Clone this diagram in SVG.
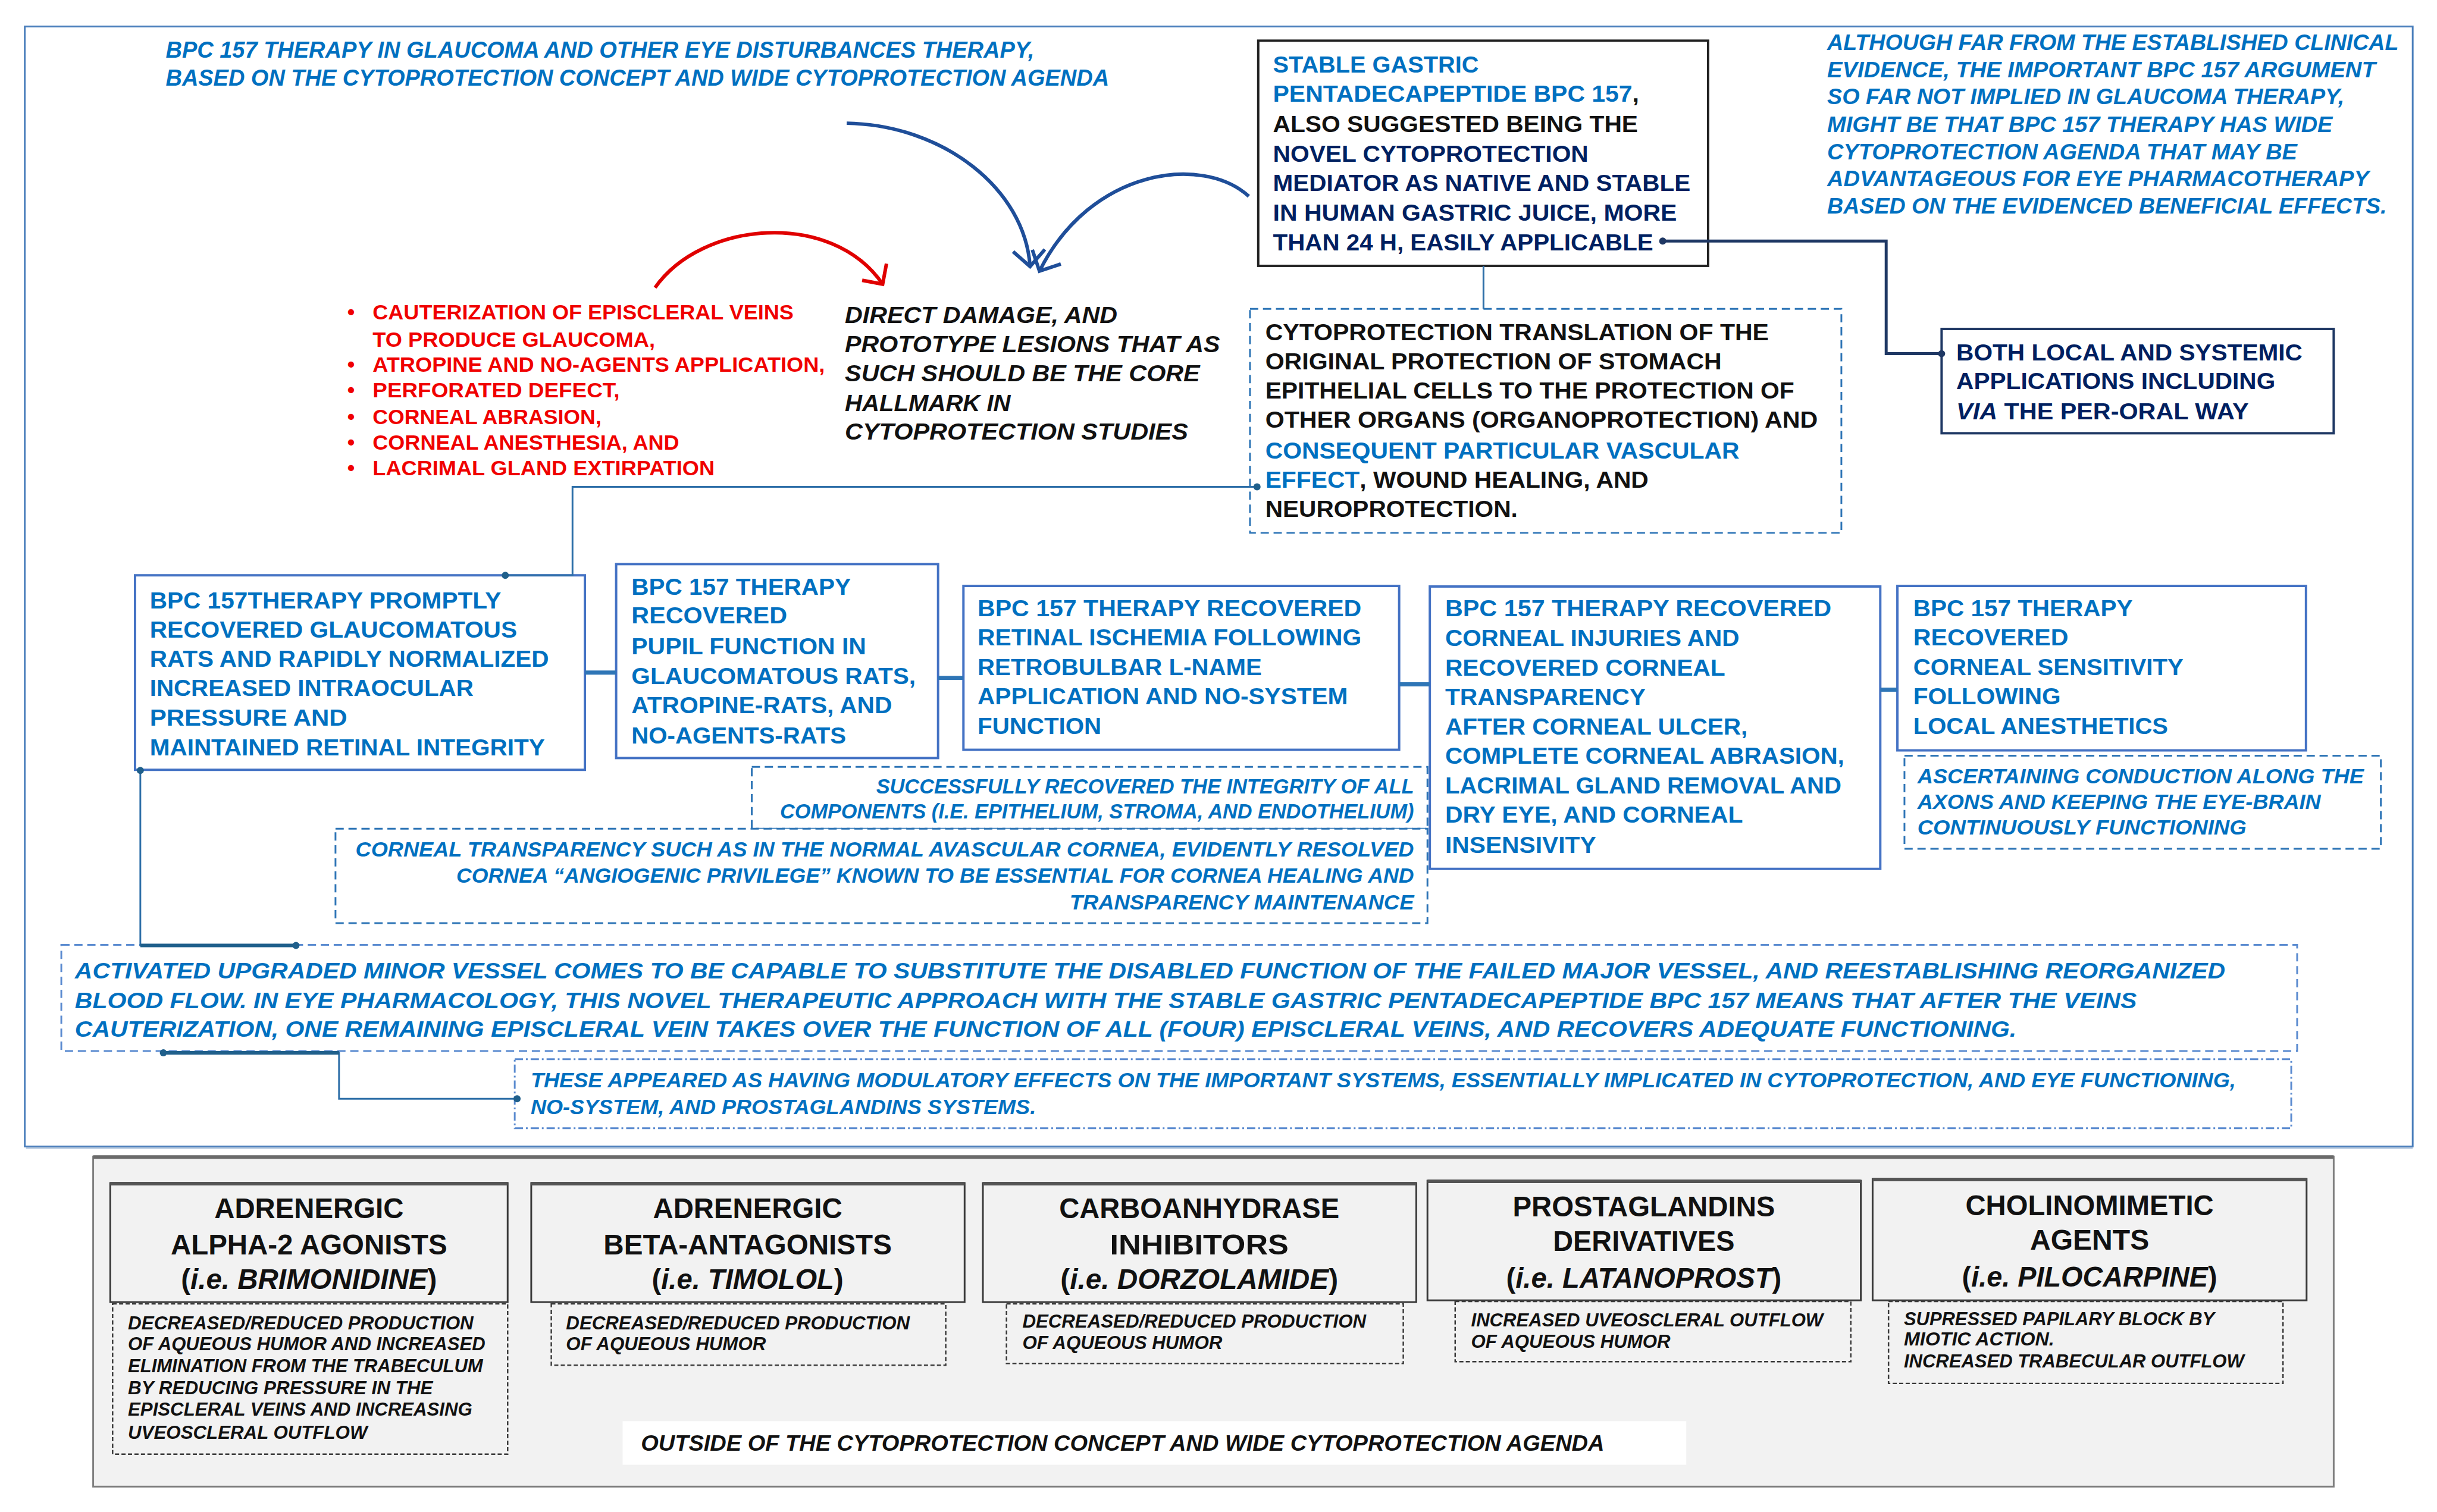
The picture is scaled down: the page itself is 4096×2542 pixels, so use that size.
<svg xmlns="http://www.w3.org/2000/svg" width="4096" height="2542" viewBox="0 0 4096 2542">
<defs>
<style>
.t{font-family:'Liberation Sans',Arial,sans-serif;font-weight:bold}
.i{font-style:italic}
.bl{fill:#0070C0}
.nv{fill:#002060}
.rd{fill:#F00000}
.bk{fill:#111111}
.s40{font-size:40px}
.s38{font-size:38px}
.s36{font-size:36px}
.s35{font-size:35px}
.s32{font-size:32px}
.s48{font-size:48px}
.box{fill:#ffffff;stroke:#4472C4;stroke-width:4}
.dbox{fill:#ffffff;stroke:#2E75B6;stroke-width:3;stroke-dasharray:14 8}
.gbox{fill:#F2F2F2;stroke:#3a3a3a;stroke-width:3}
.gdash{fill:#F2F2F2;stroke:#3a3a3a;stroke-width:2.5;stroke-dasharray:7 4}
.con{fill:none;stroke:#2E6FA8;stroke-width:3}
.thick{fill:none;stroke:#2E75B6;stroke-width:7}
.dot{fill:#1F5F8B}
</style>
<marker id="ab" markerUnits="userSpaceOnUse" markerWidth="70" markerHeight="70" refX="35" refY="35" orient="auto" viewBox="0 0 70 70"><path d="M8,8 L35,35 L8,62" fill="none" stroke="#1F4E99" stroke-width="6"/></marker>
<marker id="ar" markerUnits="userSpaceOnUse" markerWidth="70" markerHeight="70" refX="35" refY="35" orient="auto" viewBox="0 0 70 70"><path d="M10,10 L35,35 L10,60" fill="none" stroke="#E00000" stroke-width="6"/></marker>
</defs>
<rect width="4096" height="2542" fill="#ffffff"/>
<g transform="scale(0.991)">
<!-- outer frame -->
<rect id="frame" x="42" y="45" width="4050" height="1900" fill="#ffffff" stroke="#4A7EBB" stroke-width="3"/>
<line x1="44" y1="1947" x2="4092" y2="1947" stroke="#9DB7D5" stroke-width="3"/>

<!-- title -->
<g id="title" class="t i bl s40">
<text x="281" y="98" textLength="1473" lengthAdjust="spacingAndGlyphs">BPC 157  THERAPY IN GLAUCOMA AND OTHER EYE DISTURBANCES THERAPY,</text>
<text x="281" y="145" textLength="1600" lengthAdjust="spacingAndGlyphs">BASED ON THE CYTOPROTECTION CONCEPT AND WIDE CYTOPROTECTION AGENDA</text>
</g>

<!-- right note -->
<g id="note" class="t i bl s38">
<text x="3099" y="85" textLength="969" lengthAdjust="spacingAndGlyphs">ALTHOUGH FAR FROM THE ESTABLISHED CLINICAL</text>
<text x="3099" y="131" textLength="930" lengthAdjust="spacingAndGlyphs">EVIDENCE, THE IMPORTANT BPC 157 ARGUMENT</text>
<text x="3099" y="177" textLength="877" lengthAdjust="spacingAndGlyphs">SO FAR NOT IMPLIED IN GLAUCOMA THERAPY,</text>
<text x="3099" y="224" textLength="857" lengthAdjust="spacingAndGlyphs">MIGHT BE THAT BPC 157 THERAPY HAS WIDE</text>
<text x="3099" y="270" textLength="797" lengthAdjust="spacingAndGlyphs">CYTOPROTECTION AGENDA THAT MAY BE</text>
<text x="3099" y="316" textLength="919" lengthAdjust="spacingAndGlyphs">ADVANTAGEOUS FOR EYE PHARMACOTHERAPY</text>
<text x="3099" y="362" textLength="949" lengthAdjust="spacingAndGlyphs">BASED ON THE EVIDENCED BENEFICIAL EFFECTS.</text>
</g>

<!-- red list -->
<g id="redlist" class="t rd s36">
<text x="589" y="542">•</text>
<text x="632" y="542" textLength="714" lengthAdjust="spacingAndGlyphs">CAUTERIZATION OF EPISCLERAL VEINS</text>
<text x="632" y="588" textLength="479" lengthAdjust="spacingAndGlyphs">TO PRODUCE GLAUCOMA,</text>
<text x="589" y="631">•</text>
<text x="632" y="631" textLength="767" lengthAdjust="spacingAndGlyphs">ATROPINE AND NO-AGENTS APPLICATION,</text>
<text x="589" y="674">•</text>
<text x="632" y="674" textLength="419" lengthAdjust="spacingAndGlyphs">PERFORATED DEFECT,</text>
<text x="589" y="719">•</text>
<text x="632" y="719" textLength="388" lengthAdjust="spacingAndGlyphs">CORNEAL ABRASION,</text>
<text x="589" y="763">•</text>
<text x="632" y="763" textLength="520" lengthAdjust="spacingAndGlyphs">CORNEAL ANESTHESIA, AND</text>
<text x="589" y="806">•</text>
<text x="632" y="806" textLength="580" lengthAdjust="spacingAndGlyphs">LACRIMAL GLAND EXTIRPATION</text>
</g>

<!-- direct damage -->
<g id="damage" class="t i bk s40">
<text x="1433" y="548" textLength="462" lengthAdjust="spacingAndGlyphs">DIRECT DAMAGE, AND</text>
<text x="1433" y="597" textLength="636" lengthAdjust="spacingAndGlyphs">PROTOTYPE LESIONS THAT AS</text>
<text x="1433" y="647" textLength="602" lengthAdjust="spacingAndGlyphs">SUCH SHOULD BE THE CORE</text>
<text x="1433" y="697" textLength="281" lengthAdjust="spacingAndGlyphs">HALLMARK IN</text>
<text x="1433" y="746" textLength="582" lengthAdjust="spacingAndGlyphs">CYTOPROTECTION STUDIES</text>
</g>

<!-- stable gastric box -->
<g id="stable">
<rect x="2134" y="69" width="763" height="382" fill="#ffffff" stroke="#222222" stroke-width="4"/>
<g class="t s40">
<text x="2159" y="123" class="bl" textLength="349" lengthAdjust="spacingAndGlyphs">STABLE GASTRIC</text>
<text x="2159" y="173" class="bl" textLength="621" lengthAdjust="spacingAndGlyphs">PENTADECAPEPTIDE BPC 157<tspan class="bk">,</tspan></text>
<text x="2159" y="224" class="bk" textLength="619" lengthAdjust="spacingAndGlyphs">ALSO SUGGESTED BEING THE</text>
<text x="2159" y="274" class="nv" textLength="535" lengthAdjust="spacingAndGlyphs">NOVEL CYTOPROTECTION</text>
<text x="2159" y="324" class="nv" textLength="708" lengthAdjust="spacingAndGlyphs">MEDIATOR AS NATIVE AND STABLE</text>
<text x="2159" y="374" class="nv" textLength="685" lengthAdjust="spacingAndGlyphs">IN HUMAN GASTRIC JUICE, MORE</text>
<text x="2159" y="425" class="nv" textLength="645" lengthAdjust="spacingAndGlyphs">THAN 24 H, EASILY APPLICABLE</text>
</g>
</g>

<!-- both local -->
<g id="bothlocal">
<rect x="3293" y="558" width="665" height="177" fill="#ffffff" stroke="#1F3864" stroke-width="4"/>
<g class="t nv s40">
<text x="3318" y="611" textLength="587" lengthAdjust="spacingAndGlyphs">BOTH LOCAL AND SYSTEMIC</text>
<text x="3318" y="660" textLength="541" lengthAdjust="spacingAndGlyphs">APPLICATIONS INCLUDING</text>
<text x="3318" y="711" textLength="496" lengthAdjust="spacingAndGlyphs"><tspan class="i">VIA</tspan> THE PER-ORAL WAY</text>
</g>
</g>

<!-- cytoprotection translation -->
<g id="translation">
<rect x="2120" y="524" width="1003" height="380" class="dbox"/>
<g class="t bk s40">
<text x="2146" y="577" textLength="854" lengthAdjust="spacingAndGlyphs">CYTOPROTECTION  TRANSLATION OF THE</text>
<text x="2146" y="627" textLength="774" lengthAdjust="spacingAndGlyphs">ORIGINAL  PROTECTION  OF STOMACH</text>
<text x="2146" y="676" textLength="897" lengthAdjust="spacingAndGlyphs">EPITHELIAL CELLS TO THE PROTECTION  OF</text>
<text x="2146" y="726" textLength="937" lengthAdjust="spacingAndGlyphs">OTHER ORGANS (ORGANOPROTECTION) AND</text>
<text x="2146" y="778" class="bl" textLength="804" lengthAdjust="spacingAndGlyphs">CONSEQUENT PARTICULAR VASCULAR</text>
<text x="2146" y="827" textLength="650" lengthAdjust="spacingAndGlyphs"><tspan class="bl">EFFECT</tspan>, WOUND HEALING, AND</text>
<text x="2146" y="877" textLength="428" lengthAdjust="spacingAndGlyphs">NEUROPROTECTION.</text>
</g>
</g>

<!-- box A -->
<g id="boxA">
<rect x="229" y="976" width="763" height="330" class="box"/>
<g class="t bl s40">
<text x="254" y="1032" textLength="596" lengthAdjust="spacingAndGlyphs">BPC 157THERAPY PROMPTLY</text>
<text x="254" y="1082" textLength="623" lengthAdjust="spacingAndGlyphs">RECOVERED GLAUCOMATOUS</text>
<text x="254" y="1131" textLength="677" lengthAdjust="spacingAndGlyphs">RATS AND RAPIDLY NORMALIZED</text>
<text x="254" y="1181" textLength="549" lengthAdjust="spacingAndGlyphs">INCREASED INTRAOCULAR</text>
<text x="254" y="1231" textLength="335" lengthAdjust="spacingAndGlyphs">PRESSURE  AND</text>
<text x="254" y="1282" textLength="670" lengthAdjust="spacingAndGlyphs">MAINTAINED RETINAL INTEGRITY</text>
</g>
</g>

<!-- box B -->
<g id="boxB">
<rect x="1045" y="957" width="546" height="329" class="box"/>
<g class="t bl s40">
<text x="1071" y="1009" textLength="372" lengthAdjust="spacingAndGlyphs">BPC 157 THERAPY</text>
<text x="1071" y="1058" textLength="264" lengthAdjust="spacingAndGlyphs">RECOVERED</text>
<text x="1071" y="1110" textLength="398" lengthAdjust="spacingAndGlyphs">PUPIL FUNCTION  IN</text>
<text x="1071" y="1160" textLength="482" lengthAdjust="spacingAndGlyphs">GLAUCOMATOUS RATS,</text>
<text x="1071" y="1210" textLength="442" lengthAdjust="spacingAndGlyphs">ATROPINE-RATS, AND</text>
<text x="1071" y="1261" textLength="364" lengthAdjust="spacingAndGlyphs">NO-AGENTS-RATS</text>
</g>
</g>

<!-- box C -->
<g id="boxC">
<rect x="1634" y="994" width="739" height="278" class="box"/>
<g class="t bl s40">
<text x="1658" y="1045" textLength="651" lengthAdjust="spacingAndGlyphs">BPC 157 THERAPY RECOVERED</text>
<text x="1658" y="1095" textLength="651" lengthAdjust="spacingAndGlyphs">RETINAL ISCHEMIA FOLLOWING</text>
<text x="1658" y="1145" textLength="482" lengthAdjust="spacingAndGlyphs">RETROBULBAR L-NAME</text>
<text x="1658" y="1195" textLength="628" lengthAdjust="spacingAndGlyphs">APPLICATION AND NO-SYSTEM</text>
<text x="1658" y="1245" textLength="210" lengthAdjust="spacingAndGlyphs">FUNCTION</text>
</g>
</g>

<!-- box D -->
<g id="boxD">
<rect x="2425" y="995" width="764" height="479" class="box"/>
<g class="t bl s40">
<text x="2451" y="1045" textLength="655" lengthAdjust="spacingAndGlyphs">BPC 157 THERAPY RECOVERED</text>
<text x="2451" y="1096" textLength="499" lengthAdjust="spacingAndGlyphs">CORNEAL INJURIES AND</text>
<text x="2451" y="1146" textLength="475" lengthAdjust="spacingAndGlyphs">RECOVERED CORNEAL</text>
<text x="2451" y="1196" textLength="340" lengthAdjust="spacingAndGlyphs">TRANSPARENCY</text>
<text x="2451" y="1246" textLength="513" lengthAdjust="spacingAndGlyphs">AFTER CORNEAL ULCER,</text>
<text x="2451" y="1296" textLength="677" lengthAdjust="spacingAndGlyphs">COMPLETE CORNEAL ABRASION,</text>
<text x="2451" y="1346" textLength="672" lengthAdjust="spacingAndGlyphs">LACRIMAL GLAND REMOVAL AND</text>
<text x="2451" y="1396" textLength="505" lengthAdjust="spacingAndGlyphs">DRY EYE, AND CORNEAL</text>
<text x="2451" y="1447" textLength="256" lengthAdjust="spacingAndGlyphs">INSENSIVITY</text>
</g>
</g>

<!-- box E -->
<g id="boxE">
<rect x="3218" y="994" width="693" height="279" class="box"/>
<g class="t bl s40">
<text x="3245" y="1045" textLength="372" lengthAdjust="spacingAndGlyphs">BPC 157 THERAPY</text>
<text x="3245" y="1095" textLength="263" lengthAdjust="spacingAndGlyphs">RECOVERED</text>
<text x="3245" y="1145" textLength="458" lengthAdjust="spacingAndGlyphs">CORNEAL SENSITIVITY</text>
<text x="3245" y="1195" textLength="250" lengthAdjust="spacingAndGlyphs">FOLLOWING</text>
<text x="3245" y="1245" textLength="432" lengthAdjust="spacingAndGlyphs">LOCAL ANESTHETICS</text>
</g>
</g>

<!-- box F -->
<g id="boxF">
<rect x="3230" y="1282" width="808" height="158" class="dbox"/>
<g class="t i bl s35">
<text x="3252" y="1329" textLength="757" lengthAdjust="spacingAndGlyphs">ASCERTAINING CONDUCTION ALONG THE</text>
<text x="3252" y="1372" textLength="684" lengthAdjust="spacingAndGlyphs">AXONS AND KEEPING THE EYE-BRAIN</text>
<text x="3252" y="1416" textLength="558" lengthAdjust="spacingAndGlyphs">CONTINUOUSLY FUNCTIONING</text>
</g>
</g>

<!-- box G -->
<g id="boxG">
<rect x="1275" y="1301" width="1146" height="105" class="dbox"/>
<g class="t i bl s35" text-anchor="end">
<text x="2398" y="1346" textLength="912" lengthAdjust="spacingAndGlyphs">SUCCESSFULLY RECOVERED THE INTEGRITY OF ALL</text>
<text x="2398" y="1389" textLength="1075" lengthAdjust="spacingAndGlyphs">COMPONENTS (I.E. EPITHELIUM, STROMA, AND ENDOTHELIUM)</text>
</g>
</g>

<!-- box H -->
<g id="boxH">
<rect x="569" y="1406" width="1852" height="160" class="dbox"/>
<g class="t i bl s35" text-anchor="end">
<text x="2398" y="1453" textLength="1795" lengthAdjust="spacingAndGlyphs">CORNEAL TRANSPARENCY SUCH AS IN THE NORMAL AVASCULAR CORNEA, EVIDENTLY RESOLVED</text>
<text x="2398" y="1497" textLength="1624" lengthAdjust="spacingAndGlyphs">CORNEA “ANGIOGENIC PRIVILEGE” KNOWN TO BE ESSENTIAL FOR CORNEA HEALING AND</text>
<text x="2398" y="1543" textLength="584" lengthAdjust="spacingAndGlyphs">TRANSPARENCY MAINTENANCE</text>
</g>
</g>

<!-- box I -->
<g id="boxI">
<rect x="104" y="1603" width="3792" height="180" fill="#ffffff" stroke="#5B8BD0" stroke-width="3" stroke-dasharray="14 8"/>
<g class="t i bl s38">
<text x="127" y="1660" textLength="3647" lengthAdjust="spacingAndGlyphs">ACTIVATED UPGRADED MINOR VESSEL COMES TO BE CAPABLE TO SUBSTITUTE THE DISABLED FUNCTION OF THE FAILED MAJOR VESSEL, AND REESTABLISHING REORGANIZED</text>
<text x="127" y="1710" textLength="3497" lengthAdjust="spacingAndGlyphs">BLOOD FLOW. IN EYE PHARMACOLOGY, THIS NOVEL THERAPEUTIC APPROACH WITH THE STABLE GASTRIC PENTADECAPEPTIDE BPC 157 MEANS THAT AFTER THE VEINS</text>
<text x="127" y="1759" textLength="3293" lengthAdjust="spacingAndGlyphs">CAUTERIZATION,  ONE REMAINING EPISCLERAL VEIN TAKES OVER THE FUNCTION OF ALL (FOUR)  EPISCLERAL VEINS, AND RECOVERS ADEQUATE FUNCTIONING.</text>
</g>
</g>

<!-- box J -->
<g id="boxJ">
<rect x="873" y="1797" width="3013" height="117" fill="#ffffff" stroke="#5B8BD0" stroke-width="3" stroke-dasharray="14 5 3 5"/>
<g class="t i bl s36">
<text x="900" y="1845" textLength="2892" lengthAdjust="spacingAndGlyphs">THESE APPEARED AS HAVING MODULATORY EFFECTS ON THE IMPORTANT SYSTEMS, ESSENTIALLY IMPLICATED IN CYTOPROTECTION, AND EYE FUNCTIONING,</text>
<text x="900" y="1890" textLength="857" lengthAdjust="spacingAndGlyphs">NO-SYSTEM, AND PROSTAGLANDINS SYSTEMS.</text>
</g>
</g>

<!-- arcs -->
<g id="arcs">
<path d="M1436,209 C1600,212 1738,320 1747,452" fill="none" stroke="#1F4E99" stroke-width="6" marker-end="url(#ab)"/>
<path d="M2118,333 C2040,262 1850,285 1763,460" fill="none" stroke="#1F4E99" stroke-width="6" marker-end="url(#ab)"/>
<path d="M1111,488 C1190,375 1410,355 1497,482" fill="none" stroke="#E00000" stroke-width="6" marker-end="url(#ar)"/>
</g>

<!-- connectors -->
<g id="connectors">
<path d="M2820,409 H3199 V600 H3293" fill="none" stroke="#1F3864" stroke-width="5"/>
<circle cx="2820" cy="409" r="6" fill="#1F3864"/>
<circle cx="3293" cy="600" r="6" fill="#1F3864"/>
<path d="M2516,451 V524" class="con"/>
<path d="M2132,826 H971 V976 H857" class="con"/>
<circle cx="2132" cy="826" r="6" class="dot"/>
<circle cx="857" cy="976" r="6" class="dot"/>
<path d="M992,1141 H1045" class="thick"/>
<path d="M1591,1150 H1634" class="thick"/>
<path d="M2373,1161 H2425" class="thick"/>
<path d="M3189,1170 H3218" class="thick"/>
<path d="M238,1307 V1604 H502" class="con"/>
<path d="M238,1604 H502" fill="none" stroke="#1F5F8B" stroke-width="6"/>
<circle cx="238" cy="1307" r="6" class="dot"/>
<circle cx="502" cy="1604" r="6" class="dot"/>
<path d="M277,1786 H575 V1864 H877" class="con"/>
<path d="M277,1786 H575" fill="none" stroke="#1F5F8B" stroke-width="6"/>
<circle cx="277" cy="1786" r="6" class="dot"/>
<circle cx="877" cy="1864" r="6" class="dot"/>
</g>

<!-- bottom panel -->
<g id="panel">
<rect x="158" y="1962" width="3800" height="560" fill="#F2F2F2" stroke="#808080" stroke-width="3"/>
<line x1="158" y1="1963" x2="3958" y2="1963" stroke="#6a6a6a" stroke-width="6"/>
</g>

<g id="drug1">
<rect x="187" y="2007" width="674" height="202" class="gbox"/>
<line x1="187" y1="2008" x2="861" y2="2008" stroke="#555" stroke-width="6"/>
<g class="t bk s48" text-anchor="middle">
<text x="524" y="2067" textLength="321" lengthAdjust="spacingAndGlyphs">ADRENERGIC</text>
<text x="524" y="2128" textLength="469" lengthAdjust="spacingAndGlyphs">ALPHA-2 AGONISTS</text>
<text x="524" y="2187" textLength="434" lengthAdjust="spacingAndGlyphs">(<tspan class="i">i.e. BRIMONIDINE</tspan>)</text>
</g>
</g>
<g id="drug2">
<rect x="901" y="2007" width="735" height="202" class="gbox"/>
<line x1="901" y1="2008" x2="1636" y2="2008" stroke="#555" stroke-width="6"/>
<g class="t bk s48" text-anchor="middle">
<text x="1268" y="2067" textLength="321" lengthAdjust="spacingAndGlyphs">ADRENERGIC</text>
<text x="1268" y="2128" textLength="489" lengthAdjust="spacingAndGlyphs">BETA-ANTAGONISTS</text>
<text x="1268" y="2187" textLength="325" lengthAdjust="spacingAndGlyphs">(<tspan class="i">i.e. TIMOLOL</tspan>)</text>
</g>
</g>
<g id="drug3">
<rect x="1667" y="2007" width="735" height="202" class="gbox"/>
<line x1="1667" y1="2008" x2="2402" y2="2008" stroke="#555" stroke-width="6"/>
<g class="t bk s48" text-anchor="middle">
<text x="2034" y="2067" textLength="475" lengthAdjust="spacingAndGlyphs">CARBOANHYDRASE</text>
<text x="2034" y="2128" textLength="303" lengthAdjust="spacingAndGlyphs">INHIBITORS</text>
<text x="2034" y="2187" textLength="471" lengthAdjust="spacingAndGlyphs">(<tspan class="i">i.e. DORZOLAMIDE</tspan>)</text>
</g>
</g>
<g id="drug4">
<rect x="2421" y="2003" width="735" height="203" class="gbox"/>
<line x1="2421" y1="2004" x2="3156" y2="2004" stroke="#555" stroke-width="6"/>
<g class="t bk s48" text-anchor="middle">
<text x="2788" y="2064" textLength="445" lengthAdjust="spacingAndGlyphs">PROSTAGLANDINS</text>
<text x="2788" y="2122" textLength="308" lengthAdjust="spacingAndGlyphs">DERIVATIVES</text>
<text x="2788" y="2185" textLength="467" lengthAdjust="spacingAndGlyphs">(<tspan class="i">i.e. LATANOPROST</tspan>)</text>
</g>
</g>
<g id="drug5">
<rect x="3176" y="2000" width="736" height="206" class="gbox"/>
<line x1="3176" y1="2001" x2="3912" y2="2001" stroke="#555" stroke-width="6"/>
<g class="t bk s48" text-anchor="middle">
<text x="3544" y="2062" textLength="421" lengthAdjust="spacingAndGlyphs">CHOLINOMIMETIC</text>
<text x="3544" y="2120" textLength="202" lengthAdjust="spacingAndGlyphs">AGENTS</text>
<text x="3544" y="2183" textLength="433" lengthAdjust="spacingAndGlyphs">(<tspan class="i">i.e. PILOCARPINE</tspan>)</text>
</g>
</g>

<g id="desc1">
<rect x="191" y="2212" width="670" height="255" class="gdash"/>
<g class="t i bk s32">
<text x="217" y="2255" textLength="586" lengthAdjust="spacingAndGlyphs">DECREASED/REDUCED PRODUCTION</text>
<text x="217" y="2291" textLength="606" lengthAdjust="spacingAndGlyphs">OF AQUEOUS HUMOR AND INCREASED</text>
<text x="217" y="2328" textLength="602" lengthAdjust="spacingAndGlyphs">ELIMINATION FROM THE TRABECULUM</text>
<text x="217" y="2365" textLength="517" lengthAdjust="spacingAndGlyphs">BY REDUCING PRESSURE IN THE</text>
<text x="217" y="2402" textLength="584" lengthAdjust="spacingAndGlyphs">EPISCLERAL VEINS AND INCREASING</text>
<text x="217" y="2441" textLength="406" lengthAdjust="spacingAndGlyphs">UVEOSCLERAL OUTFLOW</text>
</g>
</g>
<g id="desc2">
<rect x="935" y="2212" width="669" height="104" class="gdash"/>
<g class="t i bk s32">
<text x="960" y="2255" textLength="583" lengthAdjust="spacingAndGlyphs">DECREASED/REDUCED PRODUCTION</text>
<text x="960" y="2291" textLength="339" lengthAdjust="spacingAndGlyphs">OF AQUEOUS HUMOR</text>
</g>
</g>
<g id="desc3">
<rect x="1707" y="2212" width="673" height="101" class="gdash"/>
<g class="t i bk s32">
<text x="1734" y="2252" textLength="583" lengthAdjust="spacingAndGlyphs">DECREASED/REDUCED PRODUCTION</text>
<text x="1734" y="2289" textLength="339" lengthAdjust="spacingAndGlyphs">OF AQUEOUS HUMOR</text>
</g>
</g>
<g id="desc4">
<rect x="2468" y="2208" width="671" height="102" class="gdash"/>
<g class="t i bk s32">
<text x="2495" y="2250" textLength="597" lengthAdjust="spacingAndGlyphs">INCREASED UVEOSCLERAL OUTFLOW</text>
<text x="2495" y="2287" textLength="338" lengthAdjust="spacingAndGlyphs">OF AQUEOUS HUMOR</text>
</g>
</g>
<g id="desc5">
<rect x="3203" y="2208" width="669" height="139" class="gdash"/>
<g class="t i bk s32">
<text x="3229" y="2248" textLength="527" lengthAdjust="spacingAndGlyphs">SUPRESSED PAPILARY BLOCK BY</text>
<text x="3229" y="2283" textLength="255" lengthAdjust="spacingAndGlyphs">MIOTIC ACTION.</text>
<text x="3229" y="2320" textLength="577" lengthAdjust="spacingAndGlyphs">INCREASED TRABECULAR OUTFLOW</text>
</g>
</g>

<g id="outside">
<rect x="1056" y="2411" width="1804" height="74" fill="#ffffff"/>
<text x="1087" y="2461" class="t i bk s38" textLength="1634" lengthAdjust="spacingAndGlyphs">OUTSIDE OF THE CYTOPROTECTION CONCEPT AND WIDE CYTOPROTECTION AGENDA</text>
</g>
</g>
</svg>
